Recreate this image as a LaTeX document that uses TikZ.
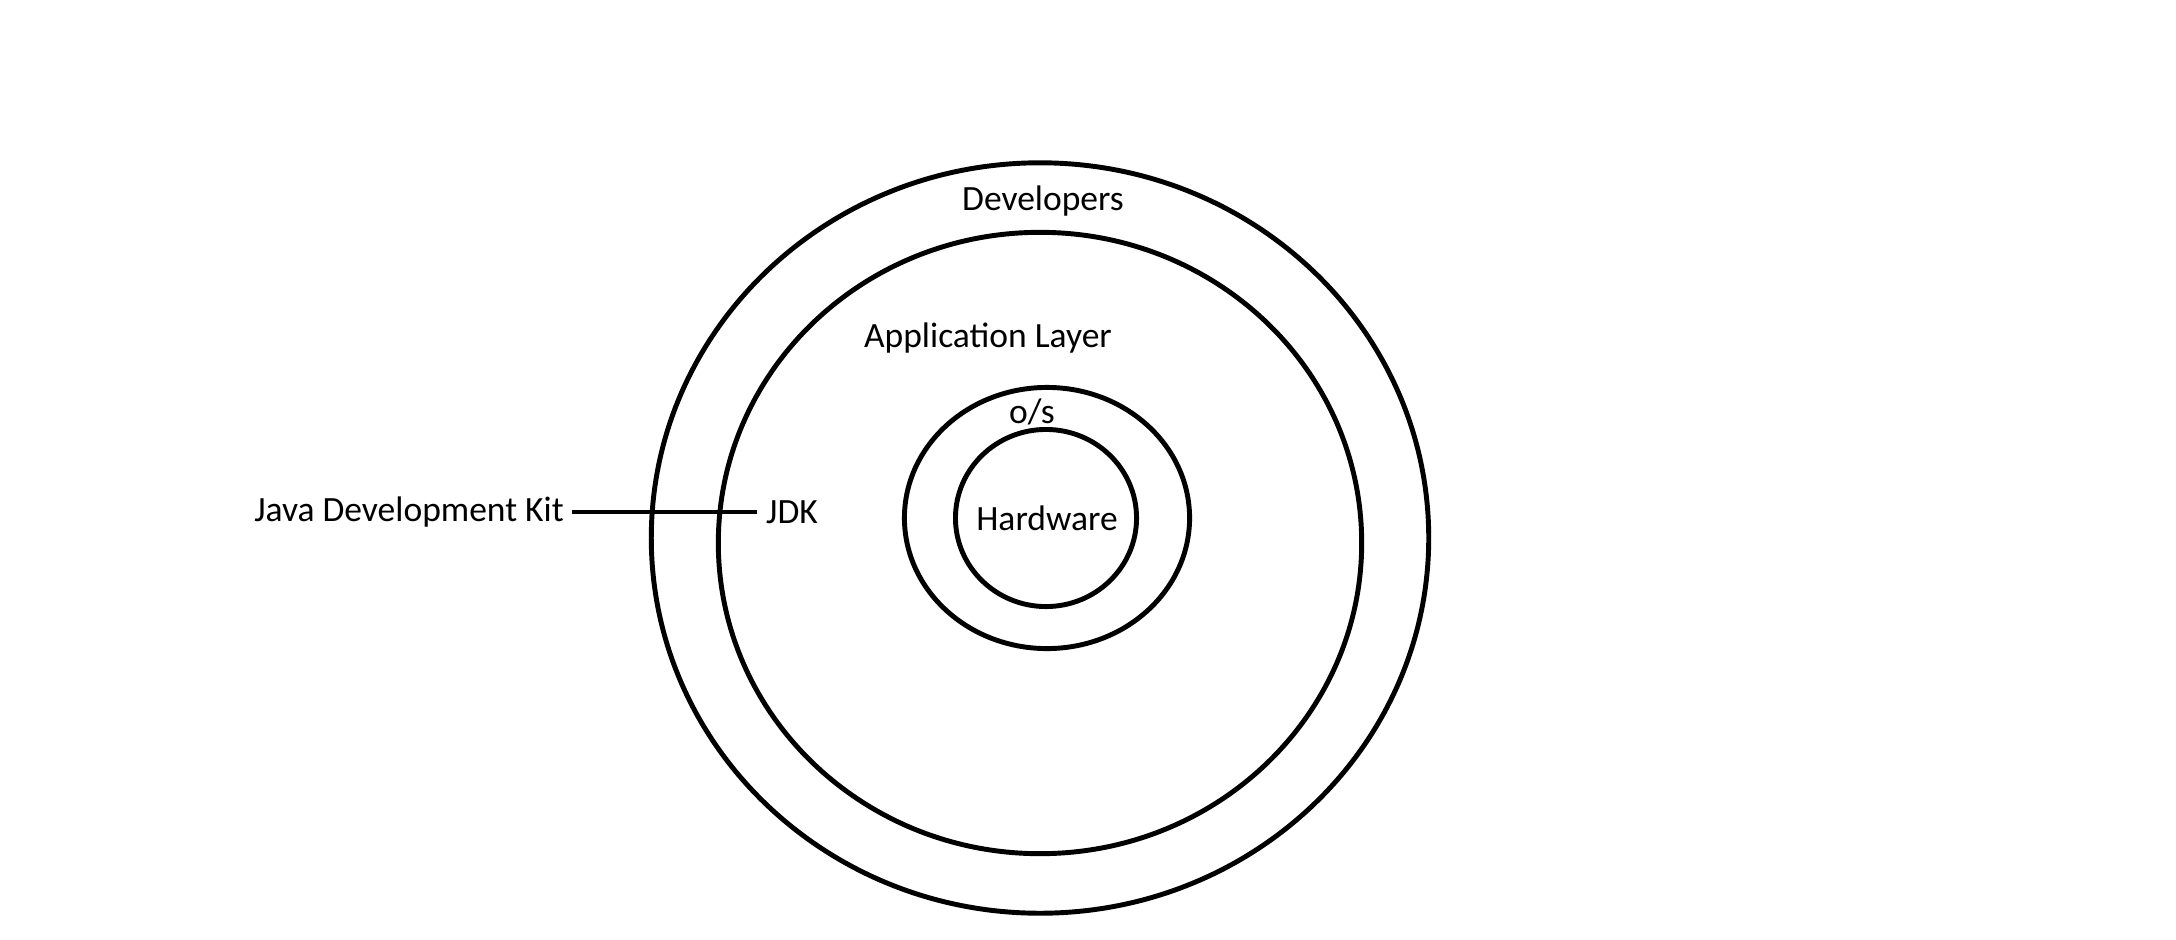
\documentclass[tikz,border=0pt]{standalone}
\usepackage{fontspec}
\setmainfont{Carlito}
\usetikzlibrary{positioning, shapes.geometric}

\begin{document}
\begin{tikzpicture}[
  x=0.01cm, y=-0.01cm,
  ring/.style={draw, ellipse, line width=1.4pt, inner sep=0pt},
  label/.style={font=\fontsize{10.1pt}{12pt}\selectfont, inner sep=0.08cm},
  link/.style={line width=1.4pt}
]
\useasboundingbox (0,0) rectangle (2176,939);

% Rings, outside to inside
\node[ring, minimum width=7.77cm, minimum height=7.50cm] (devring) at (1040,538) {};
\node[ring, minimum width=6.43cm, minimum height=6.21cm] (appring) at (1040,543) {};
\node[ring, minimum width=2.85cm, minimum height=2.61cm] (osring) at (1047,518) {};
\node[ring, minimum width=1.81cm, minimum height=1.77cm] (hwring) at (1046,518) {};

% Ring labels
\node[label] (devs) at (1043,201) {Developers};
\node[label] (app) at (988,338) {Application Layer};
\node[label] (os) at (1032,412) {o/s};
\node[label] (hw) at (1047,518) {Hardware};

% JDK callout
\node[label] (jdk) at (792,512) {JDK};
\node[label, left=1.85cm of jdk] (javakit) {Java Development Kit};
\draw[link] (javakit.east) -- (jdk.west);

\end{tikzpicture}
\end{document}
